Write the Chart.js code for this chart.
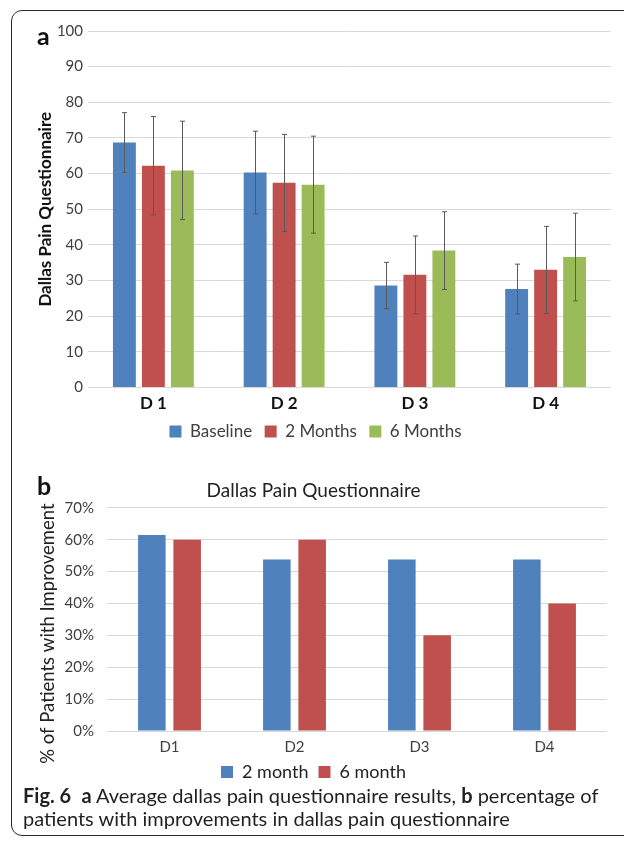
<!DOCTYPE html>
<html>
<head>
<meta charset="utf-8">
<script src="https://cdn.jsdelivr.net/npm/chart.js@4"></script>
<style>
  html, body { margin: 0; padding: 0; background: #fff; }
  body { width: 624px; height: 841px; position: relative; overflow: hidden; font-family: Lato, sans-serif; }
  #frame { position: absolute; left: 11px; top: 10px; width: 700px; height: 826px; border: 1.5px solid #2b2b2b; border-radius: 11px; box-sizing: border-box; }
  .panel { position: absolute; font-weight: bold; font-size: 25px; color: #111; line-height: 1; }
  canvas { position: absolute; left: 0; }
  #caption { position: absolute; left: 23px; top: 784px; font-size: 20px; line-height: 23px; color: #231f20; white-space: nowrap; }
</style>
</head>
<body>
<div id="frame"></div>
<canvas id="chartA" width="624" height="450" style="top:0"></canvas>
<canvas id="chartB" width="624" height="331" style="top:460px"></canvas>
<div class="panel" style="left:37px; top:23px">a</div>
<div class="panel" style="left:37px; top:473px">b</div>
<div id="caption"><b>Fig. 6</b>&nbsp; <b>a</b> Average dallas pain questionnaire results, <b>b</b> percentage of<br>patients with improvements in dallas pain questionnaire</div>

<script>
// --- chart a : average scores (mean +/- sd)
var catsA = ["D 1", "D 2", "D 3", "D 4"];
var baseline = [68.7, 60.3, 28.6, 27.6];
var baselineSd = [8.4, 11.6, 6.5, 7.0];
var twoMonths = [62.2, 57.4, 31.6, 33.0];
var twoMonthsSd = [13.8, 13.6, 10.9, 12.2];
var sixMonths = [60.9, 56.9, 38.4, 36.6];
var sixMonthsSd = [13.8, 13.6, 10.9, 12.3];

// --- chart b : % of patients with improvement
var catsB = ["D1", "D2", "D3", "D4"];
var improved2 = [61.5, 53.8, 53.8, 53.8];
var improved6 = [60, 60, 30, 40];

var BLUE = '#4F81BD', RED = '#C0504D', GREEN = '#9BBB59';
var GRID = '#d9d9d9', TXT = '#404040';

// small plugin: draws the sd whiskers using the y scale
var errorBars = {
    id: 'errorBars',
    afterDatasetsDraw: function(chart) {
        var ctx = chart.ctx, y = chart.scales.y;
        chart.data.datasets.forEach(function(ds, i) {
            if (!ds.sd) return;
            chart.getDatasetMeta(i).data.forEach(function(bar, j) {
                var hi = y.getPixelForValue(ds.data[j] + ds.sd[j]);
                var lo = y.getPixelForValue(ds.data[j] - ds.sd[j]);
                var x = Math.round(bar.x) + 0.5;
                ctx.save();
                ctx.strokeStyle = '#5a5a5a';
                ctx.lineWidth = 1;
                ctx.beginPath();
                ctx.moveTo(x, hi); ctx.lineTo(x, lo);
                ctx.moveTo(x - 2.5, hi); ctx.lineTo(x + 2.5, hi);
                ctx.moveTo(x - 2.5, lo); ctx.lineTo(x + 2.5, lo);
                ctx.stroke();
                ctx.restore();
            });
        });
    }
};

Chart.defaults.font.family = 'Lato, sans-serif';
Chart.defaults.color = TXT;

new Chart(document.getElementById('chartA'), {
    type: 'bar',
    data: {
        labels: catsA,
        datasets: [
            { label: 'Baseline', data: baseline, sd: baselineSd, backgroundColor: BLUE },
            { label: '2 Months', data: twoMonths, sd: twoMonthsSd, backgroundColor: RED },
            { label: '6 Months', data: sixMonths, sd: sixMonthsSd, backgroundColor: GREEN }
        ]
    },
    options: {
        responsive: false,
        animation: false,
        devicePixelRatio: 1,
        categoryPercentage: 0.665,
        barPercentage: 0.79,
        layout: { padding: { left: 20, right: 13, top: 31, bottom: 0 } },
        plugins: {
            legend: {
                position: 'bottom',
                labels: { boxWidth: 12, boxHeight: 12, padding: 12.5, color: TXT, font: { size: 17 } }
            },
            tooltip: { enabled: false }
        },
        scales: {
            x: {
                grid: { display: false, drawTicks: false },
                border: { display: false },
                ticks: { color: '#111', padding: 6, font: { size: 17, weight: 'bold' } },
                afterFit: function(s) { s.height = 23; }
            },
            y: {
                min: 0, max: 100,
                grid: { color: GRID, drawTicks: false },
                border: { display: false },
                ticks: { stepSize: 10, padding: 5, color: TXT, font: { size: 15 } },
                title: { display: true, text: 'Dallas Pain Questionnaire', color: '#111',
                         font: { size: 17, weight: 'bold' }, padding: { top: 15, bottom: 0 } },
                afterFit: function(s) { s.width = 68; }
            }
        }
    },
    plugins: [errorBars]
});

new Chart(document.getElementById('chartB'), {
    type: 'bar',
    data: {
        labels: catsB,
        datasets: [
            { label: '2 month', data: improved2, backgroundColor: BLUE },
            { label: '6 month', data: improved6, backgroundColor: RED }
        ]
    },
    options: {
        responsive: false,
        animation: false,
        devicePixelRatio: 1,
        categoryPercentage: 0.565,
        barPercentage: 0.78,
        layout: { padding: { left: 20, right: 17, top: 8, bottom: 0 } },
        plugins: {
            title: { display: true, text: 'Dallas Pain Questionnaire', color: '#222',
                     font: { size: 19, weight: 'normal' }, padding: { top: 11, bottom: 6 } },
            legend: {
                position: 'bottom',
                labels: { boxWidth: 12, boxHeight: 12, padding: 10, color: '#222', font: { size: 18 } }
            },
            tooltip: { enabled: false }
        },
        scales: {
            x: {
                grid: { display: false, drawTicks: false },
                border: { display: false },
                ticks: { color: TXT, padding: 7, font: { size: 15 } },
                afterFit: function(s) { s.height = 22; }
            },
            y: {
                min: 0, max: 70,
                grid: { color: GRID, drawTicks: false },
                border: { display: false },
                ticks: { stepSize: 10, padding: 13, color: TXT, font: { size: 15 },
                         callback: function(v) { return v + '%'; } },
                // trailing spaces nudge the centred title a little lower, as in the figure
                title: { display: true, text: '% of Patients with Improvement      ', color: '#222',
                         font: { size: 18.5 }, padding: { top: 17, bottom: 0 } },
                afterFit: function(s) { s.width = 87; }
            }
        }
    }
});
</script>
</body>
</html>
